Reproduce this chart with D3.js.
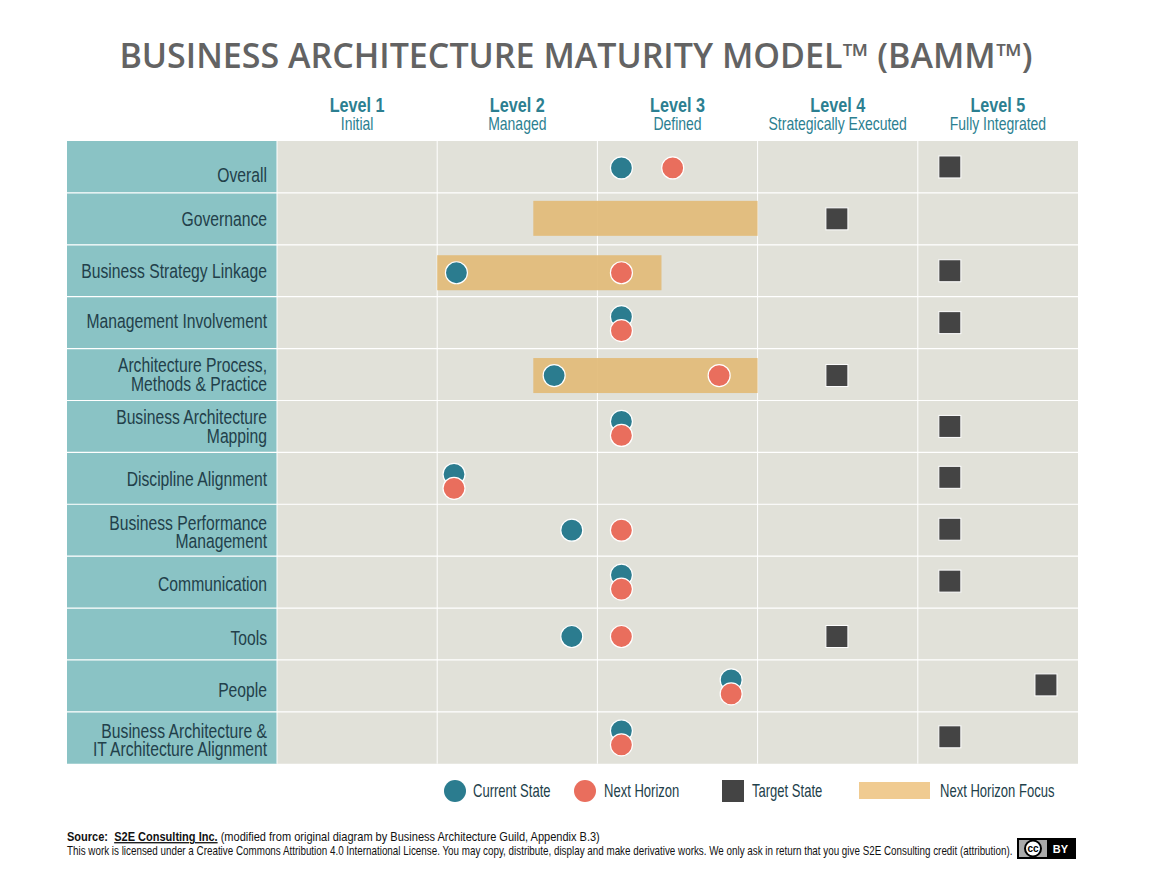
<!DOCTYPE html>
<html>
<head>
<meta charset="utf-8">
<script src="https://cdn.jsdelivr.net/npm/d3@7"></script>
<style>
  html, body { margin: 0; background: #fff; }
  svg { display: block; }
  text { font-family: "Liberation Sans", sans-serif; }
</style>
</head>
<body>
<script>
const levels = ['Level 1', 'Level 2', 'Level 3', 'Level 4', 'Level 5'];
const levelNames = ['Initial', 'Managed', 'Defined', 'Strategically Executed', 'Fully Integrated'];
const categories = [
  'Overall', 'Governance', 'Business Strategy Linkage', 'Management Involvement',
  'Architecture Process,\nMethods & Practice', 'Business Architecture\nMapping',
  'Discipline Alignment', 'Business Performance\nManagement', 'Communication',
  'Tools', 'People', 'Business Architecture &\nIT Architecture Alignment'
];
// maturity values on the level scale, null where the row has no dot
const currentState = [3.15, null, 2.12, 3.15, 2.73, 3.15, 2.105, 2.84, 3.15, 2.84, 3.835, 3.15];
const nextHorizon = [3.47, null, 3.15, 3.15, 3.76, 3.15, 2.105, 3.15, 3.15, 3.15, 3.835, 3.15];
const targetState = [5.2, 4.495, 5.2, 5.2, 4.495, 5.2, 5.2, 5.2, 5.2, 4.495, 5.8, 5.2];
const focusStart = [null, 2.6, 2.0, null, 2.6, null, null, null, null, null, null, null];
const focusEnd = [null, 4.0, 3.4, null, 4.0, null, null, null, null, null, null, null];

const colors = {
  label: '#8ac3c5', cell: '#e1e1d9', current: '#2b7c8f', next: '#e96e5d',
  target: '#444444', focus: '#e2bb78', focusKey: '#f0cb91', head: '#2c7f91', ink: '#22404a'
};

// the original rows are hand placed, so marks and labels sit a little off centre
const labelNudge = [8, 0, 0, -2, 0, 0, 1, 2, 2, 4, 4, 2];
const markNudge = [0, -1.5, 1, 0, 0, 1, 2, -1, -1, 1.5, 0, -1];
const targetNudge = [0, 0, 0, 0, 1, 0, -1, -1, -1, 2.5, -1, -1];

const svg = d3.select('body').append('svg').attr('width', 1149).attr('height', 885);

const x = d3.scaleLinear().domain([1, 6]).range([277, 1078]);
const y = d3.scaleBand().domain(d3.range(categories.length)).range([141, 763.75]);
const rowMid = (i) => y(i) + y.bandwidth() / 2;

// no condensed face is installed, so squeeze the regular one sideways
function narrowText(parent, str, px, py, size, squeeze, anchor) {
  return parent.append('text')
    .attr('transform', `translate(${px},${py}) scale(${squeeze},1)`)
    .attr('text-anchor', anchor || 'start')
    .style('font-size', size + 'px')
    .text(str);
}

svg.append('text')
  .attr('x', 576).attr('y', 68)
  .attr('text-anchor', 'middle')
  .style('font-family', '"Open Sans"')
  .style('font-weight', 600)
  .style('font-size', '34px')
  .attr('fill', '#636363')
  .text('BUSINESS ARCHITECTURE MATURITY MODEL™ (BAMM™)');

// column headers
const header = svg.append('g').attr('fill', colors.head);
levels.forEach((d, i) => {
  narrowText(header, d, x(i + 1.5), 112, 20, 0.81, 'middle').style('font-weight', 700);
  narrowText(header, levelNames[i], x(i + 1.5), 130, 17.5, 0.8, 'middle');
});

// background rows
svg.append('g').selectAll('rect').data(categories).join('rect')
  .attr('x', 67).attr('y', (d, i) => y(i))
  .attr('width', 210).attr('height', y.bandwidth())
  .attr('fill', colors.label);
svg.append('g').selectAll('rect').data(categories).join('rect')
  .attr('x', x(1)).attr('y', (d, i) => y(i))
  .attr('width', x(6) - x(1)).attr('height', y.bandwidth())
  .attr('fill', colors.cell);

// white grid
svg.append('g').selectAll('line').data(d3.range(1, categories.length)).join('line')
  .attr('x1', 67).attr('x2', x(6))
  .attr('y1', (d) => y(d)).attr('y2', (d) => y(d))
  .attr('stroke', '#fff').attr('stroke-width', 1.2);
svg.append('g').selectAll('line').data([1, 2, 3, 4, 5]).join('line')
  .attr('x1', (d) => x(d)).attr('x2', (d) => x(d))
  .attr('y1', 141).attr('y2', 763.75)
  .attr('stroke', '#fff').attr('stroke-width', 1);

// row labels
const labelLayer = svg.append('g').attr('fill', colors.ink);
categories.forEach((d, i) => {
  const lines = d.split('\n');
  lines.forEach((l, k) => {
    const py = rowMid(i) + 7 + labelNudge[i] + (k - (lines.length - 1) / 2) * 18.5;
    narrowText(labelLayer, l, 267, py, 19.5, 0.805, 'end');
  });
});

// focus bars
const focusRows = d3.range(categories.length).filter((i) => focusStart[i] !== null);
svg.append('g').selectAll('rect').data(focusRows).join('rect')
  .attr('x', (i) => x(focusStart[i])).attr('width', (i) => x(focusEnd[i]) - x(focusStart[i]))
  .attr('y', (i) => rowMid(i) - 16.5 + markNudge[i]).attr('height', 35)
  .attr('fill', colors.focus).attr('opacity', 0.93);

// dots: when both states sit at the same spot the current one goes on top of the row
const stacked = (i) => currentState[i] === nextHorizon[i];
const dotLayer = svg.append('g').attr('stroke', '#fff').attr('stroke-width', 1.2);
dotLayer.selectAll('circle.current').data(d3.range(categories.length).filter((i) => currentState[i] !== null)).join('circle')
  .attr('class', 'current')
  .attr('cx', (i) => x(currentState[i]))
  .attr('cy', (i) => rowMid(i) + 1 + markNudge[i] - (stacked(i) ? 7 : 0))
  .attr('r', 11).attr('fill', colors.current);
dotLayer.selectAll('circle.next').data(d3.range(categories.length).filter((i) => nextHorizon[i] !== null)).join('circle')
  .attr('class', 'next')
  .attr('cx', (i) => x(nextHorizon[i]))
  .attr('cy', (i) => rowMid(i) + 1 + markNudge[i] + (stacked(i) ? 7 : 0))
  .attr('r', 11).attr('fill', colors.next);
svg.append('g').selectAll('rect').data(targetState).join('rect')
  .attr('x', (d) => x(d) - 11)
  .attr('y', (d, i) => rowMid(i) - 11 + targetNudge[i])
  .attr('width', 22).attr('height', 22)
  .attr('fill', colors.target).attr('stroke', '#fff').attr('stroke-width', 1);

// legend
const legend = svg.append('g').attr('fill', colors.ink);
legend.append('circle').attr('cx', 455).attr('cy', 791).attr('r', 11).attr('fill', colors.current);
legend.append('circle').attr('cx', 585).attr('cy', 791).attr('r', 11).attr('fill', colors.next);
legend.append('rect').attr('x', 722).attr('y', 780).attr('width', 22).attr('height', 22).attr('fill', colors.target);
legend.append('rect').attr('x', 859).attr('y', 782).attr('width', 71).attr('height', 17).attr('fill', colors.focusKey);
[['Current State', 473], ['Next Horizon', 604], ['Target State', 752], ['Next Horizon Focus', 940]].forEach(([t, lx]) => {
  narrowText(legend, t, lx, 797, 17.5, 0.745);
});

// source and licence
const foot = svg.append('g').attr('fill', '#111');
const src = narrowText(foot, '', 67, 841, 13, 0.848);
src.append('tspan').style('font-weight', 700).text('Source:\u00a0\u00a0');
src.append('tspan').style('font-weight', 700).style('text-decoration', 'underline').text('S2E Consulting Inc.');
src.append('tspan').text(' (modified from original diagram by Business Architecture Guild, Appendix B.3)');
narrowText(foot, 'This work is licensed under a Creative Commons Attribution 4.0 International License. You may copy, distribute, display and make derivative works. We only ask in return that you give S2E Consulting credit (attribution).', 67, 855, 12, 0.82);

const badge = svg.append('g');
badge.append('rect').attr('x', 1017).attr('y', 838).attr('width', 59).attr('height', 21).attr('fill', '#000');
badge.append('rect').attr('x', 1019).attr('y', 840).attr('width', 55).attr('height', 17).attr('fill', '#aaa');
badge.append('rect').attr('x', 1047).attr('y', 840).attr('width', 27).attr('height', 17).attr('fill', '#000');
badge.append('circle').attr('cx', 1033).attr('cy', 848.5).attr('r', 8).attr('fill', '#fff').attr('stroke', '#000').attr('stroke-width', 2);
badge.append('text').attr('x', 1033).attr('y', 852).attr('text-anchor', 'middle')
  .style('font-weight', 700).style('font-size', '10px').text('cc');
badge.append('text').attr('x', 1060.5).attr('y', 853).attr('text-anchor', 'middle').attr('fill', '#fff')
  .style('font-weight', 700).style('font-size', '11px').text('BY');
</script>
</body>
</html>
